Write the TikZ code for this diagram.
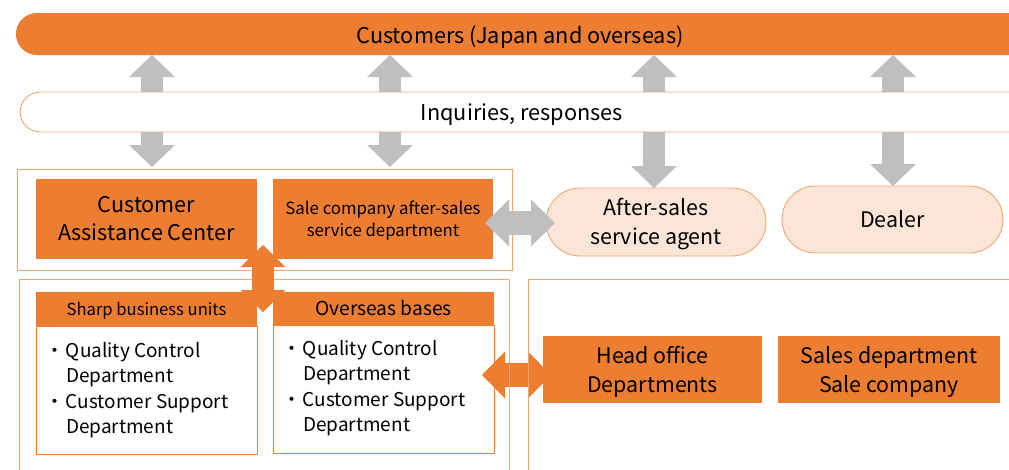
\documentclass[tikz,border=0pt]{standalone}
\usepackage{fontspec}
\setmainfont{Noto Sans CJK JP}
\usetikzlibrary{arrows.meta,shapes.misc}
\definecolor{org}{HTML}{ED7D31}
\definecolor{pea}{HTML}{FBE5D6}
\definecolor{gry}{HTML}{BFBFBF}
\definecolor{lor}{HTML}{F3A56F}
\newcommand\bitem[1]{\makebox[0pt][r]{・\hspace{2pt}}#1}
\newcommand\tall[1]{\rule{0pt}{#1}}
\begin{document}
\begin{tikzpicture}[x=1pt,y=-1pt,
  every node/.style={inner sep=0pt,outer sep=0pt},
  fs/.style n args={2}{font=\fontsize{#1}{#2}\selectfont},
  obox/.style={rectangle,fill=org,align=center},
  pill/.style={rounded rectangle,fill=pea,draw=lor,line width=0.9pt,align=center,fs={21.4}{29}},
  bar/.style={rounded rectangle,rounded rectangle right arc=none,fs={21.7}{24}},
  wbody/.style={rectangle,draw=org,line width=0.9pt,fill=white},
  frame/.style={draw=lor,line width=0.9pt},
  gvarrow/.style={draw=gry,line width=22pt,
     {Triangle[width=46pt,length=22pt,line width=0pt]}-{Triangle[width=46pt,length=22pt,line width=0pt]}},
  ghoriz/.style={draw=gry,line width=24pt,
     {Triangle[width=47pt,length=24pt,line width=0pt]}-{Triangle[width=47pt,length=24pt,line width=0pt]}},
  ovarrow/.style={draw=org,line width=22pt,
     {Triangle[width=45pt,length=22pt,line width=0pt]}-{Triangle[width=45pt,length=22pt,line width=0pt]}},
  ohoriz/.style={draw=org,line width=24pt,
     {Triangle[width=47pt,length=23pt,line width=0pt]}-{Triangle[width=47pt,length=23pt,line width=0pt]}},
]
\useasboundingbox (0,0) rectangle (1009,469);
\clip (0,0) rectangle (1009,469);

% coordinates for arrow ends
\coordinate (t1) at (152,55);  \coordinate (b1) at (152,167);
\coordinate (t2) at (390,55);  \coordinate (b2) at (390,167);
\coordinate (t3) at (654,55);  \coordinate (b3) at (654,188);
\coordinate (t4) at (893,55);  \coordinate (b4) at (893,186);

% gray vertical arrows (behind the bars)
\draw[gvarrow] (t1) -- (b1);
\draw[gvarrow] (t2) -- (b2);
\draw[gvarrow] (t3) -- (b3);
\draw[gvarrow] (t4) -- (b4);

% bars
\node[bar,fill=org,minimum width=1006,minimum height=42,text height=18.6pt,text depth=0pt] (cust) at (520,34) {Customers (Japan and overseas)};
\node[bar,fill=white,draw=lor,line width=0.9pt,minimum width=1002,minimum height=40,text height=16pt,text depth=0pt] (inq) at (522,112) {Inquiries, responses};

% top-left boxes
\node[obox,fs={21.6}{28},minimum width=221,minimum height=80] (cac) at (146.5,219) {Customer\\Assistance Center};
\node[obox,fs={16.8}{22},minimum width=220,minimum height=80] (sale) at (383,219) {\tall{17pt}Sale company after-sales\\service department};

% pills
\node[pill,minimum width=220,minimum height=68] (agent) at (656,222) {\tall{20.5pt}After-sales\\service agent};
\node[pill,minimum width=221,minimum height=67,text height=16.4pt,text depth=0pt] (dealer) at (892.5,219.5) {Dealer};

% bottom-left boxes
\node[wbody,minimum width=221,minimum height=128] (sbub) at (146.5,390) {};
\node[obox,fs={16.6}{20},minimum width=221,minimum height=34,text height=12pt,text depth=0pt] (sbuh) at (146.5,309) {Sharp business units};
\node[wbody,minimum width=221,minimum height=128] (obb) at (383.5,389) {};
\node[obox,fs={19.2}{22},minimum width=221,minimum height=33,text height=14.4pt,text depth=0pt] (obh) at (383.5,308.5) {Overseas bases};

\node[fs={19}{25.3},align=left,anchor=west] (sbut) at (66,390)
  {\bitem{Quality Control}\\Department\\\bitem{Customer Support}\\Department};
\node[fs={19}{25.3},align=left,anchor=west] (obt) at (303,388)
  {\bitem{Quality Control}\\Department\\\bitem{Customer Support}\\Department};

% bottom-right boxes
\node[obox,fs={21.4}{29},minimum width=219,minimum height=67] (ho) at (652.5,369.5) {\tall{22.5pt}Head office\\Departments};
\node[obox,fs={21.4}{29},minimum width=222,minimum height=67] (sd) at (889,369.5) {\tall{22.5pt}Sales department\\Sale company};

% orange horizontal arrow
\coordinate (oh1) at (482,375); \coordinate (oh2) at (551,375);
\draw[ohoriz] (oh1) -- (oh2);

% frames
\draw[frame] (17,169) rectangle (512,270);
\draw[frame] (19,279) rectangle (509,490);
\draw[frame] (528,279) rectangle (1030,490);

% orange vertical arrow
\coordinate (ov1) at (263,245); \coordinate (ov2) at (263,312);
\draw[ovarrow] (ov1) -- (ov2);

% gray horizontal arrow
\coordinate (gh1) at (485,223); \coordinate (gh2) at (555,223);
\draw[ghoriz] (gh1) -- (gh2);
\end{tikzpicture}
\end{document}
